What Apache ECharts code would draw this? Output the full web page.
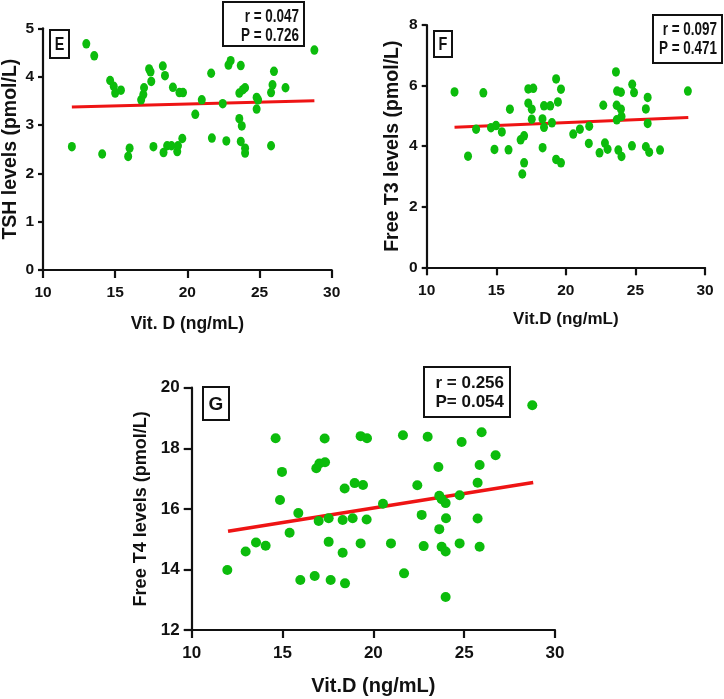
<!DOCTYPE html>
<html><head><meta charset="utf-8">
<script src="https://cdn.jsdelivr.net/npm/echarts@6/dist/echarts.min.js"></script>
<style>html,body{margin:0;padding:0;background:#fff}#c{width:724px;height:699px}</style>
</head><body><div id="c"></div>
<script>
// ---- Data ----
const eVitD = [12.0,13.0,13.55,14.1,14.65,14.9,15.0,15.4,15.9,16.0,16.8,16.95,17.0,17.35,17.45,17.5,17.65,18.3,18.45,18.35,18.6,18.9,19.0,19.3,19.35,19.45,19.7,19.65,20.55,21.0,21.65,21.7,22.45,22.7,22.85,23.0,23.7,23.6,23.85,24.0,23.6,23.77,23.7,24.0,24.0,24.8,24.9,24.8,25.8,25.8,25.9,26.0,26.8,28.8];
const eTSH  = [2.55,4.68,4.43,2.40,3.92,3.80,3.66,3.72,2.35,2.52,3.52,3.63,3.77,4.16,4.10,3.90,2.55,4.22,4.02,2.43,2.57,2.57,3.78,2.45,2.57,3.67,3.67,2.72,3.22,3.52,4.07,2.73,3.44,2.67,4.24,4.33,4.23,3.66,3.73,3.77,3.13,2.98,2.66,2.52,2.42,3.57,3.52,3.33,2.57,3.67,3.83,4.11,3.77,4.55];
const eFitX = [12, 28.8];
const eFitY = [3.37, 3.50];

const fVitD = [12.0,12.97,13.55,14.07,14.62,14.98,14.87,15.4,15.98,15.88,16.75,17.0,17.0,16.87,17.3,17.66,17.3,17.55,17.55,18.33,18.32,18.43,18.43,18.88,19.0,19.3,19.43,19.65,19.3,19.65,20.53,21.01,21.68,21.65,22.69,22.81,23.0,22.42,23.6,23.68,23.96,23.65,23.96,23.66,24.0,23.77,24.0,24.77,24.9,24.75,25.75,25.88,25.88,25.75,25.99,26.77,28.77];
const fT3   = [5.79,3.67,4.56,5.76,4.61,4.68,3.89,4.47,5.22,3.88,4.21,4.34,3.45,3.08,5.89,5.91,5.42,5.22,4.89,3.95,4.90,5.33,4.62,5.33,4.77,6.22,5.46,5.88,3.56,3.45,4.40,4.56,4.66,4.09,5.35,4.10,3.90,3.78,6.45,5.82,5.78,5.35,5.22,4.87,4.98,3.87,3.66,6.04,5.77,4.01,5.23,5.61,4.75,3.98,3.80,3.87,5.82];
const fFitX = [12, 28.8];
const fFitY = [4.62, 4.95];

const gVitD = [11.96,12.97,13.54,14.07,14.62,14.97,14.86,15.39,15.87,15.98,16.77,16.86,17.03,17.34,17.32,16.99,17.54,17.54,17.65,18.31,18.31,18.42,18.44,18.86,18.97,19.43,19.30,19.30,19.65,19.63,20.53,20.97,21.63,21.69,22.42,22.66,22.77,22.99,23.58,23.63,23.76,23.98,23.63,23.76,23.98,24.0,23.98,24.75,24.75,24.86,25.74,25.74,25.85,25.85,25.96,26.73,28.75];
const gT4   = [13.98,14.59,14.89,14.78,18.33,17.22,16.29,15.21,15.86,13.65,13.78,17.34,17.50,17.54,18.32,15.60,15.69,14.91,13.65,15.63,14.55,16.67,13.54,15.69,16.85,16.79,14.86,18.40,18.33,15.65,16.17,14.86,18.43,13.87,16.78,15.80,14.77,18.38,17.38,16.43,16.32,16.19,15.33,14.75,14.59,15.69,13.09,16.45,14.86,18.21,15.68,16.86,17.45,14.75,18.53,17.77,19.42];
const gFitX = [12, 28.8];
const gFitY = [15.26, 16.87];

const xTickMin = 10, xTickMax = 30, xTickStep = 5;
const eY = {min: 0, max: 5, step: 1};
const fY = {min: 0, max: 8, step: 2};
const gY = {min: 12, max: 20, step: 2};
const stats = {E: ['r = 0.047', 'P = 0.726'], F: ['r = 0.097', 'P = 0.471'], G: ['r = 0.256', 'P= 0.054']};
const names = {
  E: ['Vit. D (ng/mL)', 'TSH levels (pmol/L)'],
  F: ['Vit.D (ng/mL)', 'Free T3 levels (pmol/L)'],
  G: ['Vit.D (ng/mL)', 'Free T4 levels (pmol/L)']
};

// ---- Styling ----
const ARIAL = "'Liberation Sans',Arial,sans-serif";
const GREEN = '#0cbc0c';
const RED = '#ee1414';

const pairs = (xs, ys) => xs.map((x, i) => [x, ys[i]]);

function xAxis(gi, size, nameSize, gap, margin) {
  return {
    type: 'value', gridIndex: gi, min: xTickMin, max: xTickMax, interval: xTickStep,
    name: names[['E','F','G'][gi]][0], nameLocation: 'middle', nameGap: gap,
    nameTextStyle: {fontFamily: ARIAL, fontWeight: 'bold', fontSize: nameSize, color: '#111'},
    axisLine: {onZero: false, lineStyle: {color: '#111', width: 2.2}},
    axisTick: {show: true, inside: false, length: 8, lineStyle: {color: '#111', width: 2.2}},
    axisLabel: {fontFamily: ARIAL, fontWeight: 'bold', fontSize: size, color: '#111', margin: margin},
    splitLine: {show: false}
  };
}
function yAxis(gi, rng, size, nameSize, gap, tickLen, lblMargin) {
  return {
    type: 'value', gridIndex: gi, min: rng.min, max: rng.max, interval: rng.step,
    name: names[['E','F','G'][gi]][1], nameLocation: 'middle', nameGap: gap, nameRotate: 90,
    nameTextStyle: {fontFamily: ARIAL, fontWeight: 'bold', fontSize: nameSize, color: '#111'},
    axisLine: {show: true, onZero: false, lineStyle: {color: '#111', width: 2.2}},
    axisTick: {show: true, inside: false, length: tickLen, lineStyle: {color: '#111', width: 2.2}},
    axisLabel: {fontFamily: ARIAL, fontWeight: 'bold', fontSize: size, color: '#111', margin: lblMargin},
    splitLine: {show: false}
  };
}

function labelBox(letter, x, y, w, h, size, sx) {
  return [
    {type: 'rect', shape: {x: x, y: y, width: w, height: h}, style: {fill: '#fff', stroke: '#111', lineWidth: 2}, z: 10},
    {type: 'text', x: x + w / 2, y: y + h / 2 + 1, scaleX: sx, style: {text: letter, fontFamily: ARIAL, fontWeight: 'bold', fontSize: size, fill: '#111', align: 'center', verticalAlign: 'middle'}, z: 11}
  ];
}
function statBox(lines, x, y, w, h, right, y1, y2, size, sx) {
  return [
    {type: 'rect', shape: {x: x, y: y, width: w, height: h}, style: {fill: '#fff', stroke: '#111', lineWidth: 2}, z: 10},
    {type: 'text', x: right, y: y1, scaleX: sx, style: {text: lines[0], fontFamily: ARIAL, fontWeight: 'bold', fontSize: size, fill: '#111', align: 'right', verticalAlign: 'middle'}, z: 11},
    {type: 'text', x: right, y: y2, scaleX: sx, style: {text: lines[1], fontFamily: ARIAL, fontWeight: 'bold', fontSize: size, fill: '#111', align: 'right', verticalAlign: 'middle'}, z: 11}
  ];
}

const chart = echarts.init(document.getElementById('c'), null, {renderer: 'canvas'});
chart.setOption({
  backgroundColor: '#fff',
  animation: false,
  grid: [
    {left: 40.7, top: 28.3, width: 291, height: 241.7},
    {left: 426.7, top: 25, width: 278.3, height: 242.3},
    {left: 191.7, top: 387.7, width: 363.3, height: 242.3}
  ],
  xAxis: [
    xAxis(0, 15.5, 17.5, 45, 15),
    xAxis(1, 15.5, 17, 44, 15),
    xAxis(2, 17, 20, 46, 15)
  ],
  yAxis: [
    yAxis(0, eY, 15.5, 19.5, 22, 5, 9),
    yAxis(1, fY, 15.5, 19.5, 24, 5, 9),
    yAxis(2, gY, 17, 18, 38, 8, 12)
  ],
  series: [
    {type: 'line', xAxisIndex: 0, yAxisIndex: 0, data: pairs(eFitX, eFitY), showSymbol: false, lineStyle: {color: RED, width: 3}, z: 2},
    {type: 'scatter', xAxisIndex: 0, yAxisIndex: 0, data: pairs(eVitD, eTSH), symbolSize: [8, 9.5], itemStyle: {color: GREEN, opacity: 1}, z: 3},
    {type: 'line', xAxisIndex: 1, yAxisIndex: 1, data: pairs(fFitX, fFitY), showSymbol: false, lineStyle: {color: RED, width: 3}, z: 2},
    {type: 'scatter', xAxisIndex: 1, yAxisIndex: 1, data: pairs(fVitD, fT3), symbolSize: [8, 9.5], itemStyle: {color: GREEN, opacity: 1}, z: 3},
    {type: 'line', xAxisIndex: 2, yAxisIndex: 2, data: pairs(gFitX, gFitY), showSymbol: false, lineStyle: {color: RED, width: 3.5}, z: 2},
    {type: 'scatter', xAxisIndex: 2, yAxisIndex: 2, data: pairs(gVitD, gT4), symbolSize: 10, itemStyle: {color: GREEN, opacity: 1}, z: 3}
  ],
  graphic: [
    ...labelBox('E', 50, 30, 19, 28, 18, 0.8),
    ...labelBox('F', 434, 31, 18, 26, 18, 0.8),
    ...labelBox('G', 203, 387, 26, 33, 19, 1),
    ...statBox(stats.E, 223, 2, 81, 44, 299, 17, 36, 17.5, 0.77),
    ...statBox(stats.F, 653, 15, 69, 48, 717, 30.5, 49.5, 17.5, 0.77),
    ...statBox(stats.G, 424, 367, 86, 50, 504, 383, 402, 17, 1)
  ]
});
</script>
</body></html>
